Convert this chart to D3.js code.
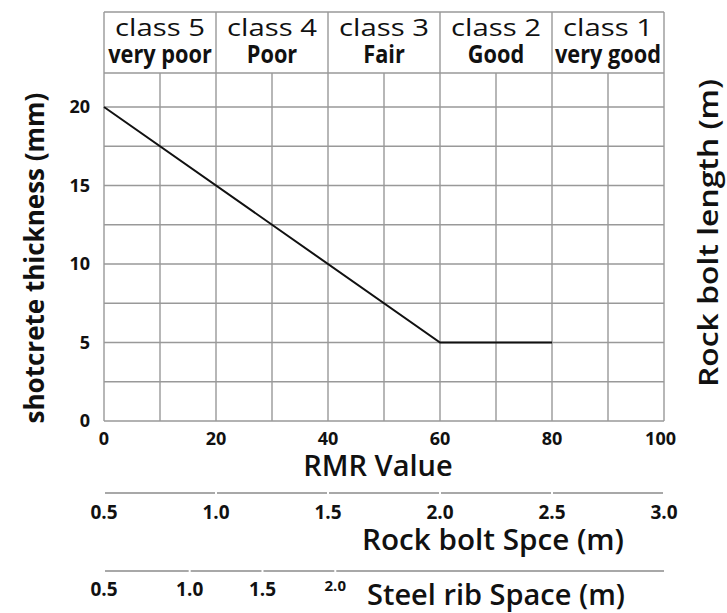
<!DOCTYPE html>
<html>
<head>
<meta charset="utf-8">
<script src="https://cdn.jsdelivr.net/npm/d3@7"></script>
<style>
  html, body { margin: 0; padding: 0; background: #fff; }
  svg text { font-family: "Open Sans", "Noto Sans", sans-serif; fill: #111; }
</style>
</head>
<body>
<svg id="chart" width="727" height="613"></svg>
<script>
// ---- data ----
const classNames = ["class 5", "class 4", "class 3", "class 2", "class 1"];
const classLabels = ["very poor", "Poor", "Fair", "Good", "very good"];
const classBounds = [0, 20, 40, 60, 80, 100];
const rmrValues = [0, 60, 80];
const shotcreteValues = [20, 5, 5];
const rmrTicks = [0, 20, 40, 60, 80, 100];
const rmrGrid = [0, 10, 20, 30, 40, 50, 60, 70, 80, 90, 100];
const thicknessTicks = [0, 5, 10, 15, 20];
const thicknessGrid = [0, 2.5, 5, 7.5, 10, 12.5, 15, 17.5, 20];
const boltSpaceTicks = [0.5, 1.0, 1.5, 2.0, 2.5, 3.0];
const ribSpaceTicks = [0.5, 1.0, 1.5, 2.0];
const ribSpaceAtRMR = [0, 15.3, 28.3, 41.3];   // where each steel-rib tick sits on the RMR scale

// ---- layout ----
const svg = d3.select("#chart");
const leftX = 104, rightX = 664, topY = 12, headerBottom = 73, y0 = 421, y20 = 107;
const x = d3.scaleLinear().domain([0, 100]).range([leftX, rightX]);
const y = d3.scaleLinear().domain([0, 20]).range([y0, y20]);
const boltX = d3.scaleLinear().domain([0.5, 3.0]).range([leftX, rightX]);
const ribRMR = d3.scaleLinear().domain(ribSpaceTicks).range(ribSpaceAtRMR);
const ribX = v => x(ribRMR(v));
const gridColor = "#999";

// grid
const g = svg.append("g");
g.selectAll("line.v").data(rmrGrid).join("line")
  .attr("x1", d => x(d)).attr("x2", d => x(d))
  .attr("y1", headerBottom).attr("y2", y(0))
  .attr("stroke", gridColor).attr("stroke-width", 1.4);
g.selectAll("line.h").data(thicknessGrid).join("line")
  .attr("x1", x(0)).attr("x2", x(100))
  .attr("y1", d => y(d)).attr("y2", d => y(d))
  .attr("stroke", gridColor).attr("stroke-width", 1.4);
// header frame
g.append("line").attr("x1", x(0)).attr("x2", x(100)).attr("y1", topY).attr("y2", topY)
  .attr("stroke", gridColor).attr("stroke-width", 1.4);
g.append("line").attr("x1", x(0)).attr("x2", x(100)).attr("y1", headerBottom).attr("y2", headerBottom)
  .attr("stroke", gridColor).attr("stroke-width", 1.4);
g.selectAll("line.hb").data(classBounds).join("line")
  .attr("x1", d => x(d)).attr("x2", d => x(d))
  .attr("y1", topY).attr("y2", headerBottom)
  .attr("stroke", gridColor).attr("stroke-width", 1.4);

// header text
const mids = classNames.map((c, i) => (classBounds[i] + classBounds[i + 1]) / 2);
svg.selectAll("text.cn").data(classNames).join("text")
  .attr("x", (d, i) => x(mids[i])).attr("y", 36)
  .attr("text-anchor", "middle").attr("font-size", 24).attr("font-weight", 500)
  .attr("textLength", 90).attr("lengthAdjust", "spacingAndGlyphs")
  .text(d => d);
svg.selectAll("text.cl").data(classLabels).join("text")
  .attr("transform", (d, i) => `translate(${x(mids[i])},63) scale(0.87,1)`)
  .attr("text-anchor", "middle").attr("font-size", 25).attr("font-weight", 700)
  .text(d => d);

// line
const line = d3.line().x((d, i) => x(rmrValues[i])).y(d => y(d));
svg.append("path").datum(shotcreteValues).attr("d", line)
  .attr("fill", "none").attr("stroke", "#111").attr("stroke-width", 2);

// y ticks
svg.selectAll("text.yt").data(thicknessTicks).join("text")
  .attr("x", 90).attr("y", d => y(d)).attr("dy", "0.35em")
  .attr("text-anchor", "end").attr("font-size", 18).attr("font-weight", 700)
  .text(d => d);
// x ticks
svg.selectAll("text.xt").data(rmrTicks).join("text")
  .attr("x", d => x(d)).attr("y", 439).attr("dy", "0.35em")
  .attr("text-anchor", d => d === 100 ? "end" : "middle")
  .attr("dx", d => d === 100 ? 12 : 0)
  .attr("font-size", 18).attr("font-weight", 700)
  .text(d => d);

// axis titles
svg.append("text").attr("x", 378).attr("y", 476).attr("text-anchor", "middle")
  .attr("font-size", 29).attr("font-weight", 600).text("RMR Value");
svg.append("text").attr("transform", "translate(44,258) rotate(-90)").attr("text-anchor", "middle")
  .attr("font-size", 26).attr("font-weight", 700).text("shotcrete thickness (mm)");
svg.append("text").attr("transform", "translate(718,233) rotate(-90)").attr("text-anchor", "middle")
  .attr("font-size", 27).attr("font-weight", 600)
  .attr("textLength", 308).attr("lengthAdjust", "spacingAndGlyphs")
  .text("Rock bolt length (m)");

// rock bolt spacing axis
const boltSeg = d3.pairs(boltSpaceTicks);
svg.selectAll("line.bs").data(boltSeg).join("line")
  .attr("x1", d => boltX(d[0]) + 1).attr("x2", d => boltX(d[1]) - 1)
  .attr("y1", 493).attr("y2", 493).attr("stroke", "#a8a8a8").attr("stroke-width", 2);
svg.selectAll("text.bt").data(boltSpaceTicks).join("text")
  .attr("x", d => boltX(d)).attr("y", 512).attr("dy", "0.35em")
  .attr("text-anchor", "middle").attr("font-size", 19).attr("font-weight", 700)
  .text(d => d.toFixed(1));
svg.append("text").attr("x", 493).attr("y", 550).attr("text-anchor", "middle")
  .attr("font-size", 29).attr("font-weight", 600)
  .attr("textLength", 262).attr("lengthAdjust", "spacingAndGlyphs")
  .text("Rock bolt Spce (m)");

// steel rib spacing axis
const ribSeg = d3.pairs(ribSpaceTicks);
svg.selectAll("line.rs").data(ribSeg).join("line")
  .attr("x1", d => ribX(d[0]) + 1).attr("x2", d => ribX(d[1]) - 1)
  .attr("y1", 571).attr("y2", 571).attr("stroke", "#a8a8a8").attr("stroke-width", 2);
svg.append("line").attr("x1", ribX(2.0) + 1).attr("x2", x(100))
  .attr("y1", 571).attr("y2", 571).attr("stroke", "#a8a8a8").attr("stroke-width", 2);
svg.selectAll("text.rt").data(ribSpaceTicks).join("text")
  .attr("x", d => ribX(d)).attr("y", d => d === 2.0 ? 586 : 589).attr("dy", "0.35em")
  .attr("text-anchor", "middle").attr("font-size", d => d === 2.0 ? 15 : 19).attr("font-weight", 700)
  .text(d => d.toFixed(1));
svg.append("text").attr("x", 496).attr("y", 605).attr("text-anchor", "middle")
  .attr("font-size", 29).attr("font-weight", 600)
  .attr("textLength", 258).attr("lengthAdjust", "spacingAndGlyphs")
  .text("Steel rib Space (m)");
</script>
</body>
</html>
